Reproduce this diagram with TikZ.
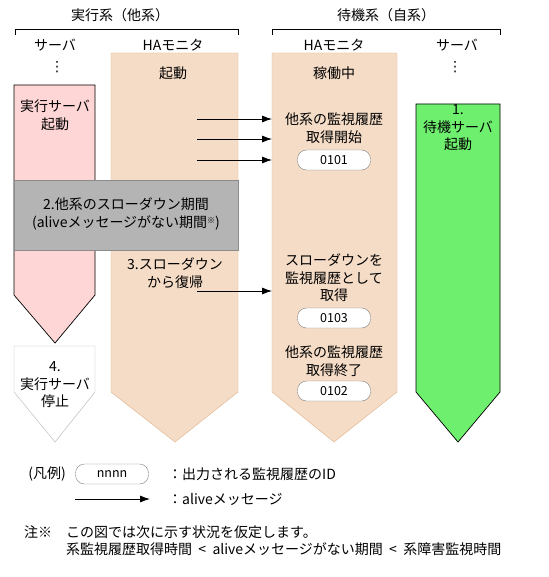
\documentclass[tikz,border=0pt]{standalone}
\usepackage{fontspec}
\setmainfont{Noto Sans CJK JP}
\newfontfamily\symfont{DejaVu Sans}
\usetikzlibrary{arrows.meta}
\definecolor{pinkf}{RGB}{255,214,214}
\definecolor{haf}{RGB}{245,220,198}
\definecolor{had}{RGB}{222,176,136}
\definecolor{grayf}{RGB}{180,180,180}
\definecolor{grayd}{RGB}{140,140,140}
\definecolor{greenf}{RGB}{110,240,110}
\definecolor{ovald}{RGB}{128,128,128}
\tikzset{
  txt/.style={font=\fontsize{14}{17.5}\selectfont, align=center, inner sep=0pt},
  ltxt/.style={font=\fontsize{14}{17.5}\selectfont, anchor=west, inner sep=0pt},
  idoval/.style={draw=ovald, fill=white, rounded corners=9pt, minimum width=73pt, minimum height=20pt, inner sep=0pt, font=\fontsize{12.5}{14}\selectfont},
  msg/.style={-{Latex[length=10pt,width=7pt]}, line width=0.8pt},
  brk/.style={line width=0.8pt}
}
\begin{document}
\begin{tikzpicture}[x=1pt,y=-1pt]
\useasboundingbox (0,0) rectangle (548,577);
% headers
\node[txt] (hl) at (120,15) {実行系（他系）};
\node[txt] (hr) at (386,15) {待機系（自系）};
\draw[brk] (15,35) -- (15,29) -- (238,29) -- (238,35);
\draw[brk] (272,35) -- (272,29) -- (500,29) -- (500,35);
\node[txt] (sl) at (55,45) {サーバ};
\node[txt] (ml) at (173,45) {HAモニタ};
\node[txt] (mr) at (334,45) {HAモニタ};
\node[txt] (sr) at (457,45) {サーバ};
\node[txt] (dl) at (57,67) {\symfont ⋮};
\node[txt] (dr) at (455,67) {\symfont ⋮};
% left HA monitor
\draw[draw=had, fill=haf] (111,53) -- (238,53) -- (238,392) -- (175,442) -- (111,392) -- cycle;
% right HA monitor
\draw[draw=had, fill=haf] (272,53) -- (397,53) -- (397,392) -- (334,442) -- (272,392) -- cycle;
% pink server
\draw[fill=pinkf, line width=0.7pt] (14,85) -- (95,85) -- (95,295) -- (55,343) -- (14,295) -- cycle;
% gray slowdown box
\draw[draw=grayd, fill=grayf] (14,180) rectangle (238,250);
% white stopped server
\draw[draw=grayf, fill=white] (14,346) -- (95,346) -- (95,392) -- (55,442) -- (14,392) -- cycle;
% green server
\draw[fill=greenf, line width=0.7pt] (416,104) -- (500,104) -- (500,392) -- (458,442) -- (416,392) -- cycle;
% texts
\node[txt] (t1) at (173,73) {起動};
\node[txt] (t2) at (55,115) {実行サーバ\\起動};
\node[txt] (t3) at (334,73) {稼働中};
\node[txt] (t4) at (334,128) {他系の監視履歴\\取得開始};
\node[idoval] (o1) at (334,160) {0101};
\node[txt] (t5) at (458,128) {1.\\待機サーバ\\起動};
\node[txt] (t6) at (126,214) {2.他系のスローダウン期間\\(aliveメッセージがない期間{\fontsize{8}{8}\selectfont\raisebox{4pt}{※}})};
\node[txt] (t7) at (175,273) {3.スローダウン\\から復帰};
\node[txt] (t8) at (334,278) {スローダウンを\\監視履歴として\\取得};
\node[idoval] (o3) at (334,318) {0103};
\node[txt] (t9) at (334,361) {他系の監視履歴\\取得終了};
\node[idoval] (o2) at (334,391) {0102};
\node[txt] (t10) at (55,385) {4.\\実行サーバ\\停止};
% messages
\coordinate (a1s) at (197,119); \coordinate (a1e) at (272,119);
\coordinate (a2s) at (197,139); \coordinate (a2e) at (272,139);
\coordinate (a3s) at (197,160); \coordinate (a3e) at (272,160);
\coordinate (a4s) at (197,291); \coordinate (a4e) at (272,291);
\draw[msg] (a1s) -- (a1e);
\draw[msg] (a2s) -- (a2e);
\draw[msg] (a3s) -- (a3e);
\draw[msg] (a4s) -- (a4e);
% legend
\node[txt] (lg) at (47,474) {(凡例)};
\node[idoval] (lo) at (112,474) {nnnn};
\node[ltxt] (lt1) at (168,474) {：出力される監視履歴のID};
\coordinate (las) at (75,499); \coordinate (lae) at (150,499);
\draw[msg] (las) -- (lae);
\node[ltxt] (lt2) at (168,499) {：aliveメッセージ};
% note
\node[ltxt] (n0) at (24,532) {注※};
\node[ltxt] (n1) at (66,532) {この図では次に示す状況を仮定します。};
\node[ltxt] (n2) at (66,549) {系監視履歴取得時間\ \ <\ \ aliveメッセージがない期間\ \ <\ \ 系障害監視時間};
\end{tikzpicture}
\end{document}
